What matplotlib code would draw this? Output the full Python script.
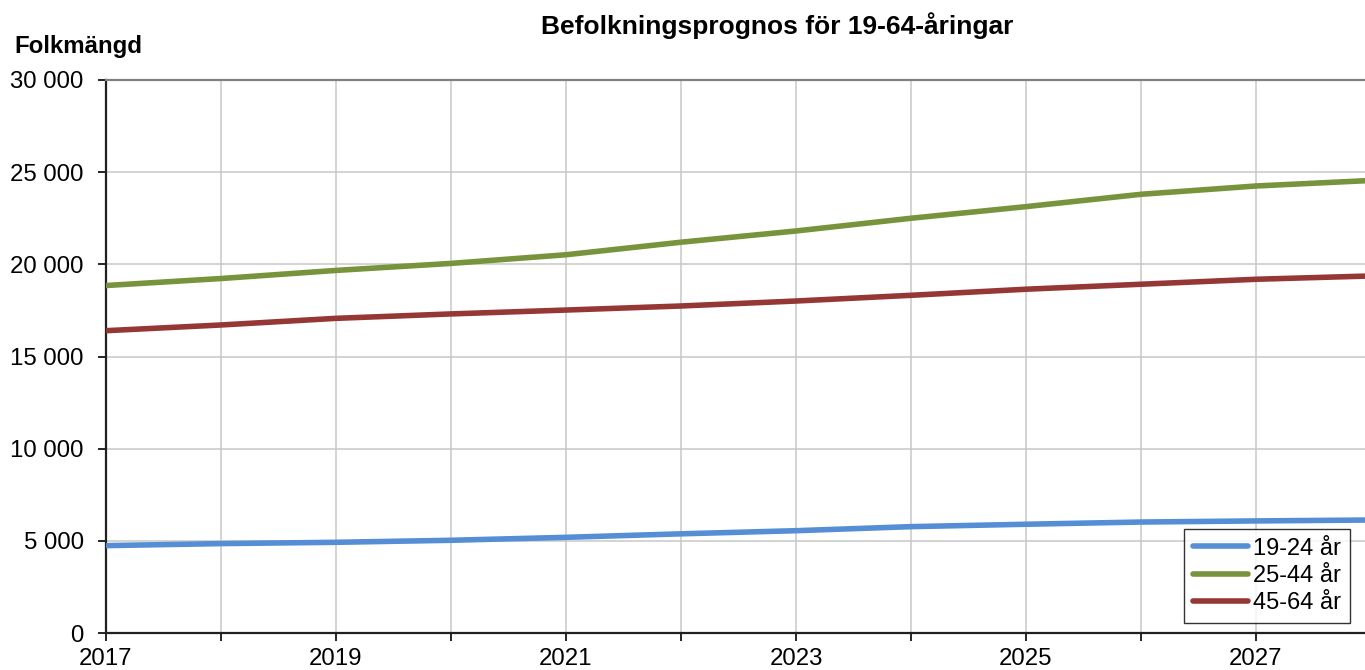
import matplotlib
matplotlib.use("Agg")
import matplotlib.pyplot as plt
from matplotlib.ticker import FuncFormatter, MultipleLocator

plt.rcParams['font.family'] = ['Liberation Sans', 'DejaVu Sans']

years = [2017, 2018, 2019, 2020, 2021, 2022, 2023, 2024, 2025, 2026, 2027, 2028]
age_19_24 = [4740, 4850, 4920, 5030, 5190, 5380, 5550, 5770, 5900, 6020, 6080, 6130]
age_25_44 = [18850, 19230, 19670, 20050, 20520, 21200, 21810, 22500, 23130, 23800, 24250, 24550]
age_45_64 = [16400, 16710, 17070, 17310, 17520, 17740, 18010, 18320, 18650, 18920, 19190, 19370]
series_labels = ["19-24 år", "25-44 år", "45-64 år"]
colors = ["#558ED5", "#77933C", "#953735"]
title = "Befolkningsprognos för 19-64-åringar"
ylabel = "Folkmängd"

fig = plt.figure(figsize=(13.65, 6.7), dpi=100)
ax = fig.add_axes([106/1365, 37/670, (1371-106)/1365, (633-80)/670])

for vals, lab, c in zip([age_19_24, age_25_44, age_45_64], series_labels, colors):
    ax.plot(years, vals, color=c, lw=4.0, label=lab, solid_capstyle='round', zorder=3)

ax.set_xlim(2017, 2028)
ax.set_ylim(0, 30000)
ax.yaxis.set_major_locator(MultipleLocator(5000))
ax.yaxis.set_major_formatter(FuncFormatter(lambda v, p: f"{v:,.0f}".replace(",", " ")))
ax.set_xticks(years)
ax.set_xticklabels([str(y) if (y - 2017) % 2 == 0 else "" for y in years])

ax.grid(True, color="#C8C8C8", lw=1.1, zorder=0)
ax.tick_params(axis='both', labelsize=17.3, colors='black', length=6, width=1.2, direction='out')
ax.tick_params(axis='x', pad=5)
ax.tick_params(axis='y', pad=10)

for s in ['left', 'bottom']:
    ax.spines[s].set_color('#202020')
    ax.spines[s].set_linewidth(1.6)
ax.spines['top'].set_color('#808080')
ax.spines['top'].set_linewidth(1.6)
ax.spines['right'].set_visible(False)

fig.text(777/1365, 1 - 26/670, title, ha='center', va='center', fontsize=19, fontweight='bold')
fig.text(14/1365, 1 - 47/670, ylabel, ha='left', va='center', fontsize=17.3, fontweight='bold')

leg = ax.legend(loc='lower right', bbox_to_anchor=((1350-106)/1265, (670-623-37)/553),
                fontsize=17, frameon=True, fancybox=False, edgecolor='black',
                handlelength=2.35, handletextpad=0.2, borderpad=0.38, labelspacing=0.22,
                borderaxespad=0)
leg.get_frame().set_linewidth(1.0)

fig.savefig("out.png", dpi=100)
